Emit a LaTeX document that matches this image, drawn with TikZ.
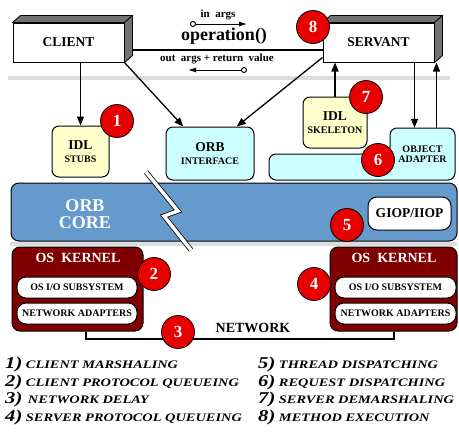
\documentclass[tikz,border=0pt]{standalone}
\usepackage{fontspec}
\setmainfont{Liberation Serif}
\newfontfamily\legendfont{Liberation Serif}[FakeStretch=1.25]
\usepackage{tikz}
\usetikzlibrary{arrows.meta,calc,positioning}

\definecolor{idlyellow}{HTML}{FFFFCC}
\definecolor{orbcyan}{HTML}{CCFFFF}
\definecolor{coreblue}{HTML}{6699CC}
\definecolor{kernelred}{HTML}{800000}
\definecolor{badgered}{HTML}{E80000}
\definecolor{sepgray}{HTML}{DDDDDD}

\newcommand\setfs[1]{\fontsize{#1}{#1}\selectfont}
\newcommand\lnum[1]{{\setfs{16.5}#1}}

\tikzset{
  front/.style={draw, line width=1pt, fill=white, inner sep=0pt,
    minimum width=111pt, minimum height=39pt, font=\bfseries\setfs{13.5}},
  boxshade/.style={draw, line width=0.8pt, fill=black!55},
  rbox/.style={draw, line width=1pt, rounded corners=7pt, inner sep=0pt,
    align=center, font=\bfseries\setfs{13.5}},
  badge/.style={circle, draw, line width=0.8pt, fill=badgered, text=white,
    minimum size=33pt, inner sep=0pt, font=\bfseries\setfs{17}},
  kernel/.style={draw, line width=1pt, fill=kernelred, rounded corners=8pt},
  pill/.style={draw, line width=1pt, fill=white, rounded corners=9pt, inner sep=0pt,
    minimum height=21pt, font=\bfseries\setfs{10}},
  conn/.style={line width=1.3pt, -{Triangle[length=9pt,width=7pt]}},
  legend/.style={anchor=base west, inner sep=0pt,
    font=\legendfont\bfseries\itshape\setfs{11.5}},
}

\begin{document}
\begin{tikzpicture}[x=1pt,y=-1pt]

\useasboundingbox[fill=white] (0,0) rectangle (459,434);

% Separators
\draw[sepgray, line width=4pt] (8,78) -- (450,78);
\draw[sepgray, line width=4pt] (10,244) -- (457,244);

% ORB core
\node[draw, line width=1pt, fill=coreblue, rounded corners=8pt,
  minimum width=446pt, minimum height=58pt] (core) at (234,212) {};
\node[text=white, align=center, font=\bfseries\fontsize{18}{17}\selectfont] (corelabel) at (85,214.5) {ORB\\CORE};

% Break in the core
\draw[line width=0.8pt, double=white, double distance=3.5pt]
  (146,172) -- (178,211) -- (164,216) -- (191,250);

\node[rbox, fill=white, rounded corners=9pt, minimum width=83pt, minimum height=33pt] (giop) at (409.5,213.5) {GIOP/IIOP};

% OS kernels
\node[kernel, minimum width=131pt, minimum height=84pt] (lkernel) at (77.5,289) {};
\node[kernel, minimum width=127pt, minimum height=84pt] (rkernel) at (393.5,289) {};
\node[text=white, font=\bfseries\setfs{14}] (lktitle) at (78,258) {OS~ KERNEL};
\node[text=white, font=\bfseries\setfs{14}] (rktitle) at (394,258) {OS~ KERNEL};
\node[pill, minimum width=120pt] (lio)  at (77,287.5)  {OS I/O SUBSYSTEM};
\node[pill, minimum width=120pt] (lnet) at (77,313.5)  {NETWORK ADAPTERS};
\node[pill, minimum width=121pt] (rio)  at (395.5,287.5) {OS I/O SUBSYSTEM};
\node[pill, minimum width=121pt] (rnet) at (395.5,313.5) {NETWORK ADAPTERS};

% Network
\draw[line width=2pt] ([xshift=8pt]lkernel.south) -- ++(0,7) -| (rkernel.south);
\node[font=\bfseries\setfs{14}] (network) at (253,328) {NETWORK};

% Stubs, interface, skeleton, adapter
\node[rbox, fill=idlyellow, minimum width=57pt, minimum height=51pt] (stubs) at (80.5,151.5)
  {IDL\\{\setfs{10}STUBS}};
\node[rbox, fill=orbcyan, minimum width=88pt, minimum height=53pt] (orbif) at (210,153.5)
  {ORB\\{\setfs{10}INTERFACE}};
\node[rbox, fill=idlyellow, minimum width=64pt, minimum height=51pt] (skel) at (335,122.5)
  {IDL\\{\setfs{10}SKELETON}};
\draw[line width=1pt, fill=orbcyan, rounded corners=7pt]
  (269,180) -- (269,154) -- (390,154) -- (390,128) -- (455,128) -- (455,180) -- cycle;
\node[align=center, inner sep=0pt, minimum width=65pt, minimum height=52pt,
  font=\bfseries\setfs{10}] (adapter) at (422.5,154) {OBJECT\\ADAPTER};

% Client and servant
\node[front] (client) at (68.5,42.5) {CLIENT};
\node[front] (servant) at (378.5,42.5) {SERVANT};
\filldraw[boxshade] (client.north west) -- ++(8,-7) -- ([shift={(8,-7)}]client.north east) -- (client.north east) -- cycle;
\filldraw[boxshade] (client.north east) -- ++(8,-7) -- ([shift={(8,-7)}]client.south east) -- (client.south east) -- cycle;
\filldraw[boxshade] (servant.north west) -- ++(8,-7) -- ([shift={(8,-7)}]servant.north east) -- (servant.north east) -- cycle;
\filldraw[boxshade] (servant.north east) -- ++(8,-7) -- ([shift={(8,-7)}]servant.south east) -- (servant.south east) -- cycle;

% Request line
\draw[line width=1.3pt] ([xshift=8pt,yshift=-7.5pt]client.east) -- ([yshift=-7.5pt]servant.west);
\node[font=\bfseries\setfs{11}] (inargs) at (218,15) {in~ args};
\node[font=\bfseries\setfs{18}] (op) at (224,36) {operation()};
\node[font=\bfseries\setfs{11}] (outargs) at (217,59) {out~ args + return~ value};
\coordinate (ina) at (190,24);
\coordinate (inb) at (247,24);
\coordinate (outa) at (247,70);
\coordinate (outb) at (188,70);
\draw[line width=1pt, {Circle[open,length=6pt]}-{Latex[length=8pt,width=5pt]}] (ina) -- (inb);
\draw[line width=1pt, {Circle[open,length=6pt]}-{Latex[length=8pt,width=5pt]}] (outa) -- (outb);

% Connectors
\draw[conn] (client.south -| stubs.north) -- (stubs.north);
\draw[conn] (client.south east) -- ($(orbif.north west)!0.2!(orbif.north east)$);
\draw[conn] ([yshift=5pt]servant.south west) -- ($(orbif.north west)!0.8!(orbif.north east)$);
\draw[conn] (skel.north) -- (skel.north |- servant.south);
\coordinate (oadown) at ([xshift=-8pt]adapter.north);
\coordinate (oaup) at ([xshift=14pt]adapter.north);
\draw[conn] (oadown |- servant.south) -- (oadown);
\draw[conn] (oaup) -- (oaup |- servant.south);

% Badges
\node[badge] (b1) at (117,121) {1};
\node[badge] (b2) at (154,274) {2};
\node[badge] (b3) at (178,332) {3};
\node[badge] (b4) at (314,284) {4};
\node[badge] (b5) at (347,225) {5};
\node[badge] (b6) at (378,160) {6};
\node[badge] (b7) at (366,97) {7};
\node[badge] (b8) at (313,27) {8};

% Legend
\node[legend] (l1) at (5,368)   {\lnum{1)} CLIENT MARSHALING};
\node[legend] (l2) at (5,386)   {\lnum{2)} CLIENT PROTOCOL QUEUEING};
\node[legend] (l3) at (5,403)   {\lnum{3)}\, NETWORK DELAY};
\node[legend] (l4) at (5,421)   {\lnum{4)} SERVER PROTOCOL QUEUEING};
\node[legend] (l5) at (258,368) {\lnum{5)} THREAD DISPATCHING};
\node[legend] (l6) at (258,386) {\lnum{6)} REQUEST DISPATCHING};
\node[legend] (l7) at (258,403) {\lnum{7)} SERVER DEMARSHALING};
\node[legend] (l8) at (258,421) {\lnum{8)} METHOD EXECUTION};

\end{tikzpicture}
\end{document}
